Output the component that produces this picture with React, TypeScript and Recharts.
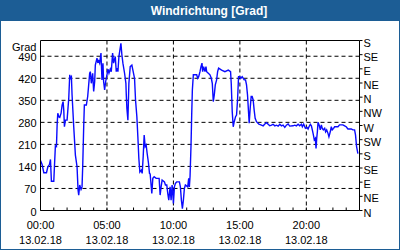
import { LineChart, Line, XAxis, YAxis, CartesianGrid, ReferenceLine } from 'recharts';

const BLUE_BAR = '#1c5d95';
const LINE_BLUE = '#0a0aff';
const FONT = '"Liberation Sans", Arial, sans-serif';

// time of day in hours (13.02.18)
const HOURS = [
  0, 0.12, 0.25, 0.45, 0.55, 0.67, 0.75, 0.82, 1.0, 1.05, 1.12, 1.2, 1.25, 1.3, 1.375, 1.45, 1.55, 1.625, 1.7, 1.75,
  1.8, 1.875, 2.0, 2.125, 2.2, 2.25, 2.325, 2.375, 2.5, 2.625, 2.75, 2.825, 2.875, 2.95, 3.05, 3.125, 3.175, 3.25, 3.3, 3.45,
  3.55, 3.625, 3.7, 3.75, 3.825, 3.925, 4.0, 4.075, 4.125, 4.25, 4.3, 4.375, 4.45, 4.55, 4.625, 4.7, 4.75, 4.825, 4.9, 5.0,
  5.075, 5.15, 5.25, 5.325, 5.425, 5.5, 5.625, 5.7, 5.75, 5.825, 5.9, 5.975, 6.05, 6.125, 6.2, 6.325, 6.425, 6.45, 6.5, 6.575,
  6.65, 6.75, 6.875, 6.95, 7.075, 7.15, 7.25, 7.325, 7.4, 7.475, 7.575, 7.65, 7.725, 7.8, 7.875, 7.95, 8.025, 8.125, 8.2, 8.25,
  8.375, 8.45, 8.55, 8.7, 8.925, 9.0, 9.075, 9.15, 9.325, 9.4, 9.5, 9.575, 9.65, 9.7, 9.75, 9.825, 9.9, 9.95, 10.0, 10.075,
  10.15, 10.25, 10.45, 10.525, 10.6, 10.675, 10.75, 10.825, 10.9, 11.075, 11.15, 11.2, 11.25, 11.325, 11.375, 11.425, 11.5, 11.75, 11.825, 11.9,
  12.0, 12.075, 12.15, 12.2, 12.275, 12.375, 12.45, 12.5, 12.625, 12.75, 12.85, 12.925, 13.0, 13.075, 13.15, 13.25, 13.325, 13.4, 13.625, 13.875,
  14.125, 14.3, 14.35, 14.425, 14.5, 14.575, 14.675, 14.75, 14.825, 14.9, 15.0, 15.075, 15.175, 15.325, 15.425, 15.5, 15.575, 15.65, 15.7, 15.775,
  15.85, 15.925, 16.0, 16.075, 16.15, 16.25, 16.43, 16.58, 16.75, 16.88, 17.0, 17.13, 17.25, 17.38, 17.5, 17.63, 17.75, 17.88, 18.0, 18.13,
  18.25, 18.38, 18.5, 18.63, 18.75, 19.0, 19.13, 19.25, 19.38, 19.5, 19.63, 19.7, 19.8, 19.93, 20.05, 20.13, 20.2, 20.3, 20.38, 20.45,
  20.53, 20.6, 20.68, 20.73, 20.78, 20.83, 20.88, 20.98, 21.05, 21.13, 21.2, 21.28, 21.38, 21.45, 21.53, 21.63, 21.7, 21.8, 21.88, 21.95,
  22.05, 22.13, 22.38, 22.5, 22.75, 22.88, 23.0, 23.13, 23.38, 23.5, 23.63, 23.7, 23.78, 23.88,
];

// wind direction in degrees
const DIRECTION = [
  159, 146, 120, 120, 138, 146, 162, 93, 93, 141, 205, 203, 271, 309, 298, 296, 309, 335, 346, 319,
  266, 287, 287, 356, 431, 420, 425, 367, 266, 176, 139, 65, 49, 81, 67, 75, 139, 266, 335, 335,
  362, 399, 436, 441, 404, 436, 378, 409, 462, 484, 472, 476, 468, 500, 415, 468, 409, 383, 409, 431,
  449, 436, 449, 441, 500, 468, 489, 441, 452, 441, 489, 510, 531, 494, 468, 436, 404, 372, 324, 287,
  404, 457, 462, 446, 420, 351, 298, 234, 165, 122, 128, 118, 171, 240, 203, 208, 181, 150, 118, 116,
  54, 102, 107, 102, 102, 49, 75, 97, 91, 81, 81, 54, 33, 54, 75, 33, 81, 59, 22, 75,
  86, 91, 91, 75, 33, 6, 33, 70, 81, 75, 102, 75, 107, 208, 303, 383, 431, 431, 420, 425,
  441, 457, 468, 441, 457, 441, 457, 441, 436, 431, 420, 404, 346, 367, 399, 415, 441, 452, 446, 441,
  446, 441, 404, 314, 266, 282, 298, 303, 351, 425, 425, 420, 425, 415, 415, 399, 367, 314, 277, 324,
  362, 362, 351, 319, 293, 282, 274, 272, 269, 275, 279, 274, 269, 271, 274, 269, 271, 268, 274, 269,
  271, 264, 271, 275, 268, 269, 271, 269, 274, 269, 274, 266, 274, 261, 264, 259, 266, 274, 269, 256,
  240, 224, 229, 197, 229, 250, 280, 269, 256, 272, 261, 256, 261, 250, 256, 245, 234, 250, 266, 256,
  261, 266, 266, 272, 272, 269, 266, 259, 259, 256, 256, 240, 203, 181,
];

const HOUR_TICKS = [0, 1, 2, 3, 4, 5, 6, 7, 8, 9, 10, 11, 12, 13, 14, 15, 16, 17, 18, 19, 20, 21, 22, 23, 24];
const LABEL_HOURS = [0, 5, 10, 15, 20];
const LABEL_TIMES = ['00:00', '05:00', '10:00', '15:00', '20:00'];
const DATE_LABEL = '13.02.18';

const DEG_TICKS = [0, 70, 140, 210, 280, 350, 420, 490, 540];
const GRID_DEG = [70, 140, 210, 280, 350, 420, 490];
const COMPASS_TICKS = [0, 45, 90, 135, 180, 225, 270, 315, 360, 405, 450, 495, 540];
const COMPASS_LABELS = ['N', 'NE', 'E', 'SE', 'S', 'SW', 'W', 'NW', 'N', 'NE', 'E', 'SE', 'S'];

const data = HOURS.map((h, i) => ({ h, v: DIRECTION[i] }));

function TimeTick({ x, y, payload }: any) {
  const i = LABEL_HOURS.indexOf(payload.value);
  return (
    <g>
      <line x1={x} x2={x} y1={y} y2={y - 3} stroke="#000" />
      {i >= 0 && (
        <text x={x} y={y} textAnchor="middle" fontSize={11} fontFamily={FONT} fill="#000">
          <tspan x={x} dy={18.5}>{LABEL_TIMES[i]}</tspan>
          <tspan x={x} dy={15}>{DATE_LABEL}</tspan>
        </text>
      )}
    </g>
  );
}

function DegTick({ x, y, payload }: any) {
  const top = payload.value === 540;
  return (
    <text x={x} y={y + (top ? 10 : 5)} textAnchor="end" fontSize={11} fontFamily={FONT} fill="#000">
      {top ? 'Grad' : payload.value}
    </text>
  );
}

function CompassTick({ x, y, payload }: any) {
  const i = COMPASS_TICKS.indexOf(payload.value);
  return (
    <text x={x} y={y + 6} textAnchor="start" fontSize={11} fontFamily={FONT} fill="#000">
      {COMPASS_LABELS[i]}
    </text>
  );
}

export default function App() {
  return (
    <div style={{
      position: 'absolute', left: 0, top: 0, width: 400, height: 250, boxSizing: 'border-box',
      border: `1px solid ${BLUE_BAR}`, background: '#fff', fontFamily: FONT,
    }}>
      <div style={{
        height: 20, background: BLUE_BAR, color: '#fff', fontWeight: 'bold', fontSize: 12,
        lineHeight: '20px', textAlign: 'center', paddingLeft: 18,
      }}>
        Windrichtung [Grad]
      </div>
      <div style={{ position: 'absolute', left: -1, top: -1 }}>
        <LineChart width={400} height={250} data={data} margin={{ top: 40.5, right: 0.5, bottom: 9.5, left: 0.5 }}>
          <CartesianGrid
            stroke="#000"
            strokeDasharray="4 3"
            horizontalValues={GRID_DEG}
            verticalValues={[5, 10, 15, 20]}
          />
          <XAxis
            dataKey="h" type="number" domain={[0, 24]} ticks={HOUR_TICKS} interval={0}
            height={30} tickSize={0} tickMargin={0} tickLine={false}
            axisLine={{ stroke: '#000' }} tick={<TimeTick />} allowDataOverflow
          />
          <YAxis
            type="number" domain={[0, 540]} ticks={DEG_TICKS} interval={0} width={40}
            tickLine={false} tickSize={0} tickMargin={4} axisLine={{ stroke: '#000' }} tick={<DegTick />}
            allowDataOverflow
          />
          <YAxis
            yAxisId="r" orientation="right" type="number" domain={[0, 540]} ticks={COMPASS_TICKS} interval={0}
            width={40} tickSize={3} tickMargin={1} tickLine={{ stroke: '#000' }} axisLine={{ stroke: '#000' }}
            tick={<CompassTick />} allowDataOverflow
          />
          <ReferenceLine y={540} stroke="#000" ifOverflow="extendDomain" />
          <Line type="linear" dataKey="v" stroke={LINE_BLUE} strokeWidth={1.4} dot={false} isAnimationActive={false} />
        </LineChart>
      </div>
    </div>
  );
}
